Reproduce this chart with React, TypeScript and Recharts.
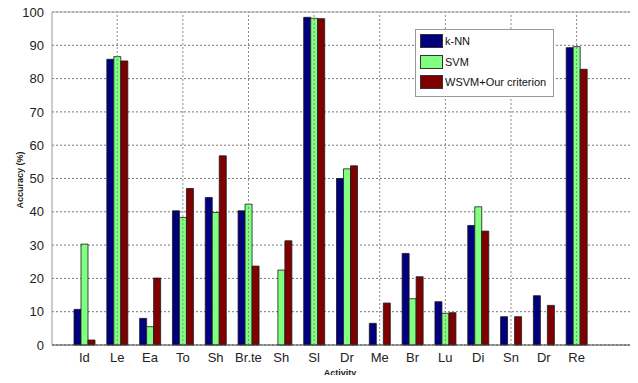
import React from "react";
import {
  BarChart,
  Bar,
  XAxis,
  YAxis,
  CartesianGrid,
  ReferenceLine,
} from "recharts";

const ACTIVITIES = [
  "Id", "Le", "Ea", "To", "Sh", "Br.te", "Sh", "Sl",
  "Dr", "Me", "Br", "Lu", "Di", "Sn", "Dr", "Re",
];
const KNN = [10.7, 85.8, 8.0, 40.3, 44.3, 40.3, 0, 98.4, 50.0, 6.5, 27.5, 13.0, 35.9, 8.5, 14.8, 89.3];
const SVM = [30.3, 86.6, 5.5, 38.3, 39.8, 42.3, 22.5, 98.1, 52.9, 0, 13.9, 9.5, 41.5, 0, 0, 89.6];
const WSVM = [1.5, 85.3, 20.1, 47.0, 56.8, 23.7, 31.3, 98.0, 53.8, 12.6, 20.5, 9.7, 34.2, 8.5, 11.9, 82.8];
const Y_TICKS = [0, 10, 20, 30, 40, 50, 60, 70, 80, 90, 100];

const SERIES = [
  { key: "knn", name: "k-NN", color: "#00007f" },
  { key: "svm", name: "SVM", color: "#80ff80" },
  { key: "wsvm", name: "WSVM+Our criterion", color: "#7f0000" },
];

const data = ACTIVITIES.map((a, i) => ({
  idx: i + 1,
  knn: KNN[i],
  svm: SVM[i],
  wsvm: WSVM[i],
}));

// MATLAB puts the x grid on even positions only
const X_GRID = data.filter((d) => d.idx % 2 === 0).map((d) => d.idx);

const FONT = "'Liberation Sans', Arial, sans-serif";

export default function App() {
  return (
    <div
      style={{
        position: "relative",
        width: 638,
        height: 383,
        margin: -8,
        overflow: "hidden",
        background: "#fff",
        fontFamily: FONT,
      }}
    >
      <BarChart
        width={680}
        height={383}
        data={data}
        margin={{ top: 12, right: 20, left: 0, bottom: 0 }}
        barSize={7}
        barGap={0}
      >
        <CartesianGrid vertical={false} stroke="#777" strokeDasharray="2 2" />
        {X_GRID.map((x) => (
          <ReferenceLine key={x} x={x} stroke="#888" strokeDasharray="2 2" />
        ))}
        <ReferenceLine y={100} stroke="#aaa" />
        <XAxis
          dataKey="idx"
          type="category"
          height={38}
          interval={0}
          padding={{ left: 16, right: 67 }}
          tickFormatter={(v) => ACTIVITIES[v - 1]}
          tickLine={false}
          axisLine={{ stroke: "#444" }}
          tick={{ fontSize: 13, fill: "#222", fontFamily: FONT }}
        />
        <YAxis
          width={52}
          domain={[0, 100]}
          ticks={Y_TICKS}
          interval={0}
          tickLine={false}
          axisLine={{ stroke: "#999" }}
          tick={{ fontSize: 13, fill: "#222", fontFamily: FONT }}
        />
        {SERIES.map((s) => (
          <Bar
            key={s.key}
            dataKey={s.key}
            name={s.name}
            fill={s.color}
            stroke="#1a1a1a"
            strokeWidth={0.8}
            isAnimationActive={false}
          />
        ))}
      </BarChart>

      {/* axis titles */}
      <div
        style={{
          position: "absolute",
          left: 20,
          top: 180,
          transform: "translate(-50%, -50%) rotate(-90deg)",
          fontSize: 9,
          fontWeight: "bold",
          color: "#222",
          whiteSpace: "nowrap",
        }}
      >
        Accuracy (%)
      </div>
      <div
        style={{
          position: "absolute",
          left: 340,
          top: 368,
          transform: "translateX(-50%)",
          fontSize: 9,
          lineHeight: "11px",
          fontWeight: "bold",
          color: "#222",
        }}
      >
        Activity
      </div>

      {/* legend box */}
      <div
        style={{
          position: "absolute",
          left: 415,
          top: 29,
          width: 137,
          height: 66,
          border: "1px solid #999",
          background: "#fff",
        }}
      >
        {SERIES.map((s, i) => (
          <div
            key={s.key}
            style={{
              position: "absolute",
              left: 4,
              top: 4 + i * 20.5,
              display: "flex",
              alignItems: "center",
              whiteSpace: "nowrap",
            }}
          >
            <span
              style={{
                display: "inline-block",
                width: 23,
                height: 14,
                background: s.color,
                border: "1px solid #333",
                boxSizing: "border-box",
              }}
            />
            <span style={{ fontSize: 11, color: "#111", marginLeft: 2 }}>
              {s.name}
            </span>
          </div>
        ))}
      </div>
    </div>
  );
}
